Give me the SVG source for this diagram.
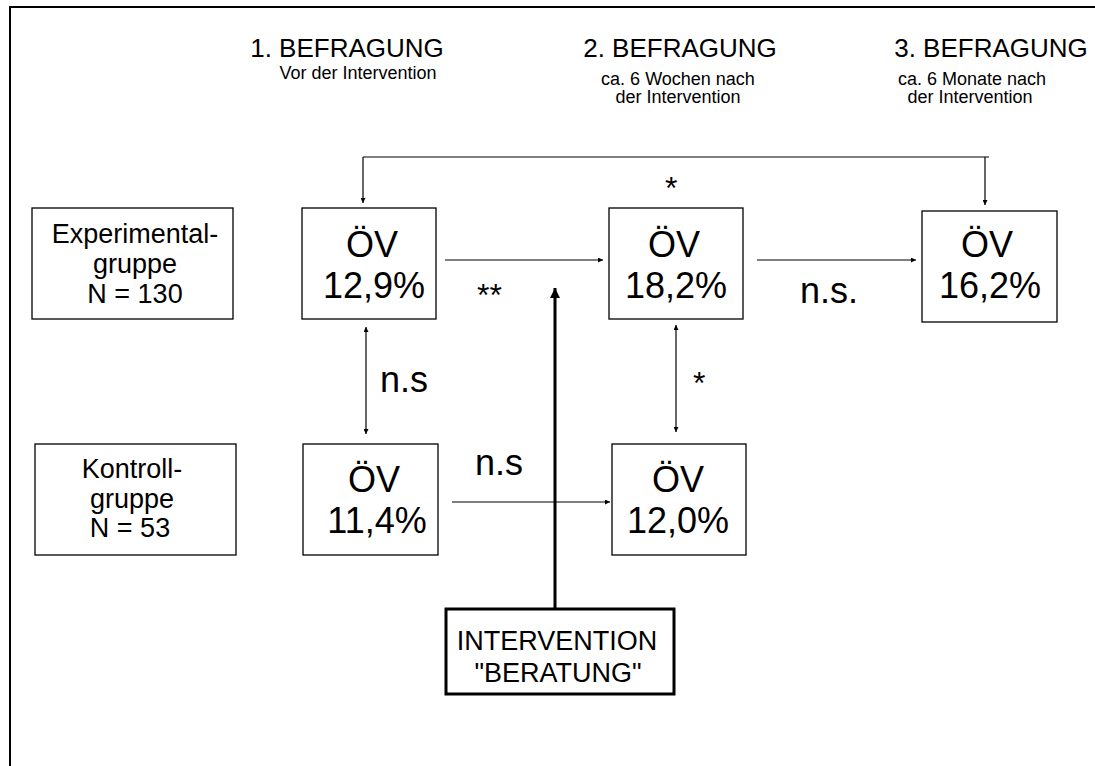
<svg xmlns="http://www.w3.org/2000/svg" width="1095" height="766" viewBox="0 0 1095 766">
<defs>
<style>
text{font-family:"Liberation Sans",Arial,sans-serif;fill:#000}
.box{fill:#fff;stroke:#000;stroke-width:1.3}
.big{font-size:36px;text-anchor:middle}
.grp{font-size:27px;text-anchor:middle}
.hd{font-size:26px;text-anchor:middle}
.sub{font-size:18px;text-anchor:middle}
.lbl{font-size:36px}
.ast{font-size:32px}
.ln{fill:none;stroke:#000;stroke-width:1.2}
</style>
<marker id="ah" viewBox="0 0 10 10" refX="10" refY="5" markerWidth="6" markerHeight="5" markerUnits="userSpaceOnUse" orient="auto-start-reverse">
<path d="M0,0L10,5L0,10z" fill="#000"/>
</marker>
<marker id="ahb" viewBox="0 0 10 10" refX="10" refY="5" markerWidth="14" markerHeight="10" markerUnits="userSpaceOnUse" orient="auto">
<path d="M0,0L10,5L0,10z" fill="#000"/>
</marker>
</defs>
<rect width="1095" height="766" fill="#fff"/>
<path d="M10,766V7H1095" fill="none" stroke="#000" stroke-width="2"/>
<g id="headers">
<text class="hd" x="347" y="57">1. BEFRAGUNG</text>
<text class="sub" x="358" y="79">Vor der Intervention</text>
<text class="hd" x="680" y="57">2. BEFRAGUNG</text>
<text class="sub" x="678" y="85">ca. 6 Wochen nach</text>
<text class="sub" x="678" y="103">der Intervention</text>
<text class="hd" x="991" y="57">3. BEFRAGUNG</text>
<text class="sub" x="972" y="85">ca. 6 Monate nach</text>
<text class="sub" x="970" y="103">der Intervention</text>
</g>
<g id="connectors">
<path class="ln" d="M363,157H989"/>
<path class="ln" d="M363,157V203" marker-end="url(#ah)"/>
<path class="ln" d="M985,157V205" marker-end="url(#ah)"/>
<path class="ln" d="M445,260H603" marker-end="url(#ah)"/>
<path class="ln" d="M757,260H916" marker-end="url(#ah)"/>
<path class="ln" d="M452,502H610" marker-end="url(#ah)"/>
<path class="ln" d="M366,327V434" marker-start="url(#ah)" marker-end="url(#ah)"/>
<path class="ln" d="M676,325V432" marker-start="url(#ah)" marker-end="url(#ah)"/>
<path d="M555,609V288" fill="none" stroke="#000" stroke-width="3" marker-end="url(#ahb)"/>
<text class="ast" x="665" y="199">*</text>
<text class="ast" x="477" y="306">**</text>
<text class="lbl" x="800" y="303">n.s.</text>
<text class="lbl" x="380" y="392">n.s</text>
<text class="ast" x="693" y="394">*</text>
<text class="lbl" x="475" y="475">n.s</text>
</g>
<g id="exp">
<rect class="box" x="32" y="208" width="201" height="111"/>
<text class="grp" x="135" y="243">Experimental-</text>
<text class="grp" x="135" y="273">gruppe</text>
<text class="grp" x="135" y="303">N = 130</text>
</g>
<g id="kon">
<rect class="box" x="35" y="444" width="201" height="111"/>
<text class="grp" x="132" y="478">Kontroll-</text>
<text class="grp" x="132" y="508">gruppe</text>
<text class="grp" x="130" y="537">N = 53</text>
</g>
<g id="e1">
<rect class="box" x="302" y="208" width="134" height="111"/>
<text class="big" x="372" y="257">ÖV</text>
<text class="big" x="374" y="298">12,9%</text>
</g>
<g id="e2">
<rect class="box" x="609" y="208" width="134" height="111"/>
<text class="big" x="674" y="257">ÖV</text>
<text class="big" x="676" y="298">18,2%</text>
</g>
<g id="e3">
<rect class="box" x="922" y="211" width="135" height="111"/>
<text class="big" x="987" y="257">ÖV</text>
<text class="big" x="990" y="298">16,2%</text>
</g>
<g id="k1">
<rect class="box" x="303" y="444" width="135" height="111"/>
<text class="big" x="374" y="492">ÖV</text>
<text class="big" x="377" y="533">11,4%</text>
</g>
<g id="k2">
<rect class="box" x="612" y="444" width="134" height="111"/>
<text class="big" x="678" y="492">ÖV</text>
<text class="big" x="678" y="533">12,0%</text>
</g>
<g id="intervention">
<rect x="446" y="609" width="228" height="85" fill="#fff" stroke="#000" stroke-width="3"/>
<text class="grp" x="557" y="650">INTERVENTION</text>
<text class="grp" x="558" y="682">"BERATUNG"</text>
</g>
</svg>
